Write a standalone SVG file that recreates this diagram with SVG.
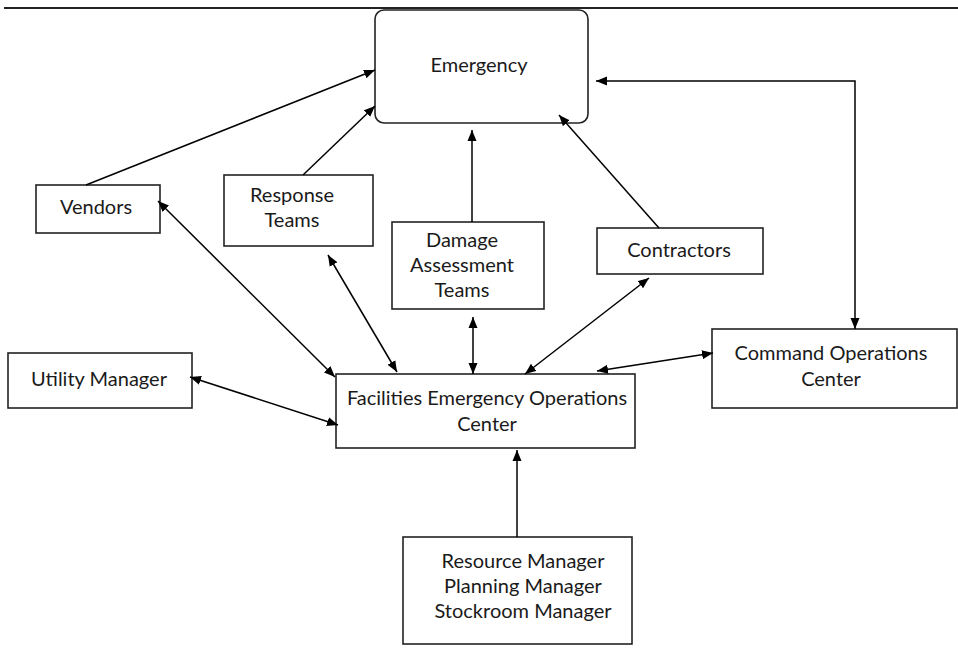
<svg xmlns="http://www.w3.org/2000/svg" width="958" height="656" viewBox="0 0 958 656">
<style>
.box{fill:#fff;stroke:#222;stroke-width:1.6}
.t{font-family:Lato,"Open Sans","Liberation Sans",sans-serif;font-size:20px;fill:#1a1a1a;text-anchor:middle}
.c{stroke:#000;stroke-width:1.5;fill:none}
</style>
<defs>
<marker id="ah" viewBox="0 0 11 10" refX="11" refY="5" markerWidth="11" markerHeight="10" markerUnits="userSpaceOnUse" orient="auto-start-reverse">
<path d="M0,0.5 L11,5 L0,9.5 Z" fill="#000"/>
</marker>
</defs>
<line x1="4" y1="8" x2="958" y2="8" stroke="#222" stroke-width="2"/>
<g id="emergency"><rect class="box" x="375" y="10" width="213" height="113" rx="9"/><text class="t" x="479" y="72">Emergency</text></g>
<g id="vendors"><rect class="box" x="36" y="185" width="124" height="48"/><text class="t" x="96" y="214">Vendors</text></g>
<g id="response"><rect class="box" x="224" y="175" width="149" height="71"/><text class="t" x="292" y="202">Response</text><text class="t" x="292" y="227">Teams</text></g>
<g id="damage"><rect class="box" x="392" y="222" width="152" height="87"/><text class="t" x="462" y="247">Damage</text><text class="t" x="462" y="272">Assessment</text><text class="t" x="462" y="297">Teams</text></g>
<g id="contractors"><rect class="box" x="597" y="228" width="166" height="46"/><text class="t" x="679" y="257">Contractors</text></g>
<g id="command"><rect class="box" x="712" y="329" width="245" height="79"/><text class="t" x="831" y="360">Command Operations</text><text class="t" x="831" y="386">Center</text></g>
<g id="utility"><rect class="box" x="8" y="353" width="184" height="55"/><text class="t" x="99" y="386">Utility Manager</text></g>
<g id="feoc"><rect class="box" x="336" y="374" width="299" height="74"/><text class="t" x="487" y="405">Facilities Emergency Operations</text><text class="t" x="487" y="431">Center</text></g>
<g id="managers"><rect class="box" x="403" y="537" width="229" height="107"/><text class="t" x="523" y="568">Resource Manager</text><text class="t" x="523" y="593">Planning Manager</text><text class="t" x="523" y="618">Stockroom Manager</text></g>
<g id="connectors">
<line class="c" x1="86" y1="185" x2="375" y2="70" marker-end="url(#ah)"/>
<line class="c" x1="303" y1="175" x2="375" y2="106" marker-end="url(#ah)"/>
<line class="c" x1="472" y1="222" x2="472" y2="130" marker-end="url(#ah)"/>
<line class="c" x1="659" y1="228" x2="559" y2="115" marker-end="url(#ah)"/>
<polyline class="c" points="596,81 855,81 855,329" marker-start="url(#ah)" marker-end="url(#ah)"/>
<line class="c" x1="158" y1="201" x2="335" y2="377" marker-start="url(#ah)" marker-end="url(#ah)"/>
<line class="c" x1="328" y1="255" x2="397" y2="372" marker-start="url(#ah)" marker-end="url(#ah)"/>
<line class="c" x1="473" y1="317" x2="473" y2="374" marker-start="url(#ah)" marker-end="url(#ah)"/>
<line class="c" x1="649" y1="278" x2="525" y2="374" marker-start="url(#ah)" marker-end="url(#ah)"/>
<line class="c" x1="597" y1="371" x2="713" y2="353" marker-start="url(#ah)" marker-end="url(#ah)"/>
<line class="c" x1="190" y1="377" x2="338" y2="425" marker-start="url(#ah)" marker-end="url(#ah)"/>
<line class="c" x1="517" y1="537" x2="517" y2="450" marker-end="url(#ah)"/>
</g>
</svg>
